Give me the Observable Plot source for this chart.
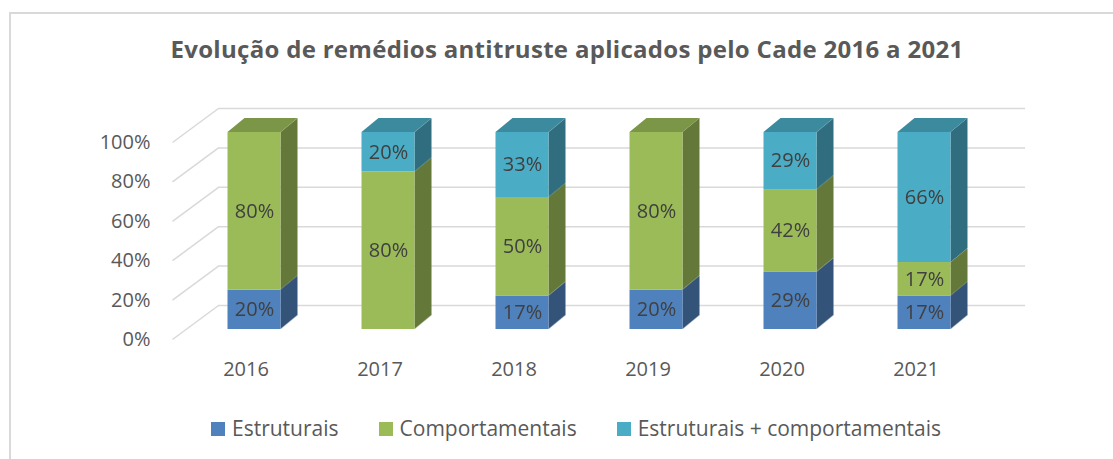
<!DOCTYPE html>
<html>
<head>
<meta charset="utf-8">
<script src="https://cdn.jsdelivr.net/npm/d3@7"></script>
<script src="https://cdn.jsdelivr.net/npm/@observablehq/plot@0.6"></script>
<style>
  html, body { margin: 0; padding: 0; background: #fff; overflow: hidden; width: 1113px; height: 459px; }
  body { position: relative; font-family: "Open Sans", sans-serif; }
  #frame { position: absolute; left: 9px; top: 12px; width: 1200px; height: 500px;
           border-top: 2px solid #d9d9d9; border-left: 2px solid #d9d9d9; box-sizing: border-box; }
  #title { position: absolute; left: 0; width: 1134px; top: 37px; text-align: center;
           font: 700 24px/24px "Open Sans", sans-serif; letter-spacing: 0.3px; color: #595959; white-space: nowrap; }
  #chart { position: absolute; left: 0; top: 0; }
  #legend { position: absolute; left: 211px; top: 418px; display: flex; align-items: center;
            font: 400 21px/21px "Open Sans", sans-serif; color: #595959; white-space: nowrap; }
  #legend .item { display: flex; align-items: center; margin-right: 40px; }
  #legend .sw { width: 14px; height: 14px; margin-right: 7px; }
</style>
</head>
<body>
<div id="frame"></div>
<div id="title"></div>
<div id="chart"></div>
<div id="legend"></div>
<script>
// ---- data ----
const titleText = "Evolução de remédios antitruste aplicados pelo Cade 2016 a 2021";
const years = ["2016", "2017", "2018", "2019", "2020", "2021"];
const seriesNames = ["Estruturais", "Comportamentais", "Estruturais + comportamentais"];
const estruturais = [20, 0, 17, 20, 29, 17];
const comportamentais = [80, 80, 50, 80, 42, 17];
const estruturaisComportamentais = [0, 20, 33, 0, 29, 66];
const yTicks = [0, 20, 40, 60, 80, 100];
const seriesColors = ["#4f81bd", "#9bbb59", "#4bacc6"];

// ---- table ----
const seriesValues = [estruturais, comportamentais, estruturaisComportamentais];
const table = [];
seriesNames.forEach((s, si) => years.forEach((y, yi) => table.push({year: y, series: s, value: seriesValues[si][yi]})));
const tops = years.map((y, yi) => {
  let top = null;
  seriesNames.forEach((s, si) => { if (seriesValues[si][yi] > 0) top = s; });
  return {year: y, series: top, total: d3.sum(seriesValues, v => v[yi])};
});

// ---- 3D geometry (pixels) ----
const barDx = 13.5, barDy = -10;      // bar front plane offset from axis plane
const depthX = 17, depthY = 14;       // bar depth
const wallDx = 46, wallDy = -34;      // back wall offset from axis plane
const bandW = 53;
const gridColor = "#d9d9d9";

document.getElementById("title").textContent = titleText;

const chart = Plot.plot({
  width: 1113,
  height: 400,
  marginLeft: 172,
  marginRight: 134,
  marginTop: 142,
  marginBottom: 61,
  style: {fontFamily: "Open Sans, sans-serif", color: "#595959", overflow: "visible"},
  x: {domain: years, paddingInner: 0.605, paddingOuter: 0.31, label: null},
  y: {domain: [0, 100], label: null},
  color: {domain: seriesNames, range: seriesColors},
  marks: [
    // back wall gridlines
    Plot.ruleY(yTicks, {stroke: gridColor, strokeWidth: 1.5, dx: wallDx, dy: wallDy}),
    // side wall gridlines
    Plot.vector(yTicks, {
      y: d => d, frameAnchor: "left", anchor: "start",
      length: Math.hypot(wallDx, wallDy), rotate: Math.atan2(wallDx, -wallDy) * 180 / Math.PI,
      stroke: gridColor, strokeWidth: 1.5, strokeLinecap: "butt",
      shape: {draw(context, l) { context.moveTo(0, 0); context.lineTo(0, -l); }}
    }),
    // side faces (1st bar mark)
    Plot.barY(table, Plot.stackY({x: "year", y: "value", z: "series", fill: "series",
      dx: barDx + depthX, dy: barDy, insetLeft: bandW - depthX})),
    // top faces (2nd bar mark)
    Plot.barY(tops, {x: "year", y1: "total", y2: "total", insetTop: -depthY, fill: "series",
      dx: barDx, dy: barDy}),
    // front faces (3rd bar mark)
    Plot.barY(table, Plot.stackY({x: "year", y: "value", z: "series", fill: "series",
      dx: barDx, dy: barDy})),
    // data labels
    Plot.text(table, Plot.stackY({x: "year", y: "value", z: "series",
      text: d => d.value > 0 ? d.value + "%" : null,
      dx: barDx, dy: barDy, fontSize: 20, fill: "#404040"})),
    Plot.axisY(yTicks, {tickSize: 0, tickPadding: 22, fontSize: 20, tickFormat: d => d + "%", label: null}),
    Plot.axisX({tickSize: 0, tickPadding: 22, fontSize: 20, dx: 5, label: null})
  ]
});

// give the side and top rectangles their 3D slant and shade
const barGroups = chart.querySelectorAll('g[aria-label="bar"]');
const sideG = barGroups[0], topG = barGroups[1];
if (sideG) {
  sideG.style.filter = "brightness(0.64)";
  sideG.querySelectorAll("rect").forEach(r => {
    r.style.transformBox = "fill-box";
    r.style.transformOrigin = "left bottom";
    r.style.transform = `skewY(${Math.atan2(-depthY, depthX) * 180 / Math.PI}deg)`;
  });
}
if (topG) {
  topG.style.filter = "brightness(0.8)";
  topG.querySelectorAll("rect").forEach(r => {
    r.style.transformBox = "fill-box";
    r.style.transformOrigin = "left bottom";
    r.style.transform = `skewX(${Math.atan2(-depthX, depthY) * 180 / Math.PI}deg)`;
  });
}

document.getElementById("chart").appendChild(chart);

// legend
const legend = document.getElementById("legend");
seriesNames.forEach((s, i) => {
  const item = document.createElement("div");
  item.className = "item";
  const sw = document.createElement("div");
  sw.className = "sw";
  sw.style.background = seriesColors[i];
  const label = document.createElement("span");
  label.textContent = s;
  item.appendChild(sw);
  item.appendChild(label);
  legend.appendChild(item);
});
</script>
</body>
</html>
